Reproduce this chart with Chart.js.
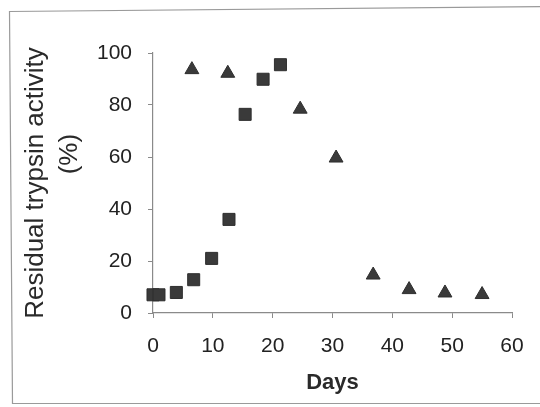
<!DOCTYPE html>
<html>
<head>
<meta charset="utf-8">
<script src="https://cdn.jsdelivr.net/npm/chart.js@4"></script>
<style>
  html, body { margin: 0; padding: 0; background: #fff; }
  #wrap { width: 540px; height: 407px; position: relative; }
</style>
</head>
<body>
<div id="wrap"><canvas id="chart" width="540" height="407"></canvas></div>
<script>
// Data
const squareDays = [0, 1, 3.9, 6.8, 9.8, 12.7, 15.4, 18.4, 21.3];
const squareActivity = [7, 7, 7.9, 12.8, 21, 36, 76.4, 89.9, 95.5];
const triangleDays = [6.5, 12.5, 24.6, 30.6, 36.8, 42.8, 48.8, 55];
const triangleActivity = [93.6, 92.2, 78.4, 59.6, 14.6, 9, 7.7, 7.1];
const xTicks = [0, 10, 20, 30, 40, 50, 60];
const yTicks = [0, 20, 40, 60, 80, 100];

const toPoints = (xs, ys) => xs.map((x, i) => ({ x, y: ys[i] }));

// Frame around the whole chart
const framePlugin = {
    id: 'frame',
    beforeDraw(chart) {
        const ctx = chart.ctx;
        ctx.save();
        ctx.fillStyle = '#fff';
        ctx.fillRect(0, 0, chart.width, chart.height);
        ctx.strokeStyle = '#9a9a9a';
        ctx.lineWidth = 1.2;
        ctx.beginPath();
        ctx.moveTo(560, 6.5);
        ctx.lineTo(9.5, 11.5);
        ctx.lineTo(12.5, 403.5);
        ctx.lineTo(560, 403.5);
        ctx.stroke();
        ctx.restore();
    }
};

const axisColor = '#8a8a8a';

new Chart(document.getElementById('chart'), {
    type: 'scatter',
    data: {
        datasets: [{
            label: 'squares',
            data: toPoints(squareDays, squareActivity),
            pointStyle: 'rect',
            pointRadius: 8.5,
            backgroundColor: '#3a3a3a',
            borderColor: '#2e2e2e',
            borderWidth: 1,
            clip: false
        }, {
            label: 'triangles',
            data: toPoints(triangleDays, triangleActivity),
            pointStyle: 'triangle',
            pointRadius: 8,
            backgroundColor: '#3a3a3a',
            borderColor: '#2e2e2e',
            borderWidth: 1,
            clip: false
        }]
    },
    options: {
        responsive: false,
        animation: false,
        events: [],
        layout: { padding: { left: 0, right: 28, top: 53, bottom: 0 } },
        plugins: { legend: { display: false }, tooltip: { enabled: false } },
        scales: {
            x: {
                type: 'linear',
                min: 0, max: 60,
                afterFit: (s) => { s.height = 94; },
                afterBuildTicks: (s) => { s.ticks = xTicks.map(v => ({ value: v })); },
                grid: { drawOnChartArea: false, drawTicks: true, tickLength: 5, color: axisColor },
                border: { color: axisColor, width: 1.2 },
                ticks: { color: '#222', padding: 16, maxRotation: 0, font: { family: 'Liberation Sans, Arial', size: 21, lineHeight: 1.2 } },
                title: {
                    display: true, text: 'Days', color: '#2a2a2a',
                    padding: { top: 0, bottom: 11 },
                    font: { family: 'Liberation Sans, Arial', size: 22, weight: 'bold', lineHeight: 1.2 }
                }
            },
            y: {
                type: 'linear',
                min: 0, max: 100,
                afterFit: (s) => { s.width = 153; },
                afterBuildTicks: (s) => { s.ticks = yTicks.map(v => ({ value: v })); },
                grid: { drawOnChartArea: false, drawTicks: true, tickLength: 5, color: axisColor },
                border: { color: axisColor, width: 1.2 },
                ticks: { color: '#222', padding: 16, font: { family: 'Liberation Sans, Arial', size: 21 } },
                title: {
                    display: true,
                    // leading spaces lift "(%)" a little above centre, as in the original
                    text: ['Residual trypsin activity', '        (%)'],
                    color: '#2a2a2a',
                    padding: { top: 19, bottom: 0 },
                    font: { family: 'Liberation Sans, Arial', size: 26, lineHeight: 1.3 }
                }
            }
        }
    },
    plugins: [framePlugin]
});
</script>
</body>
</html>
